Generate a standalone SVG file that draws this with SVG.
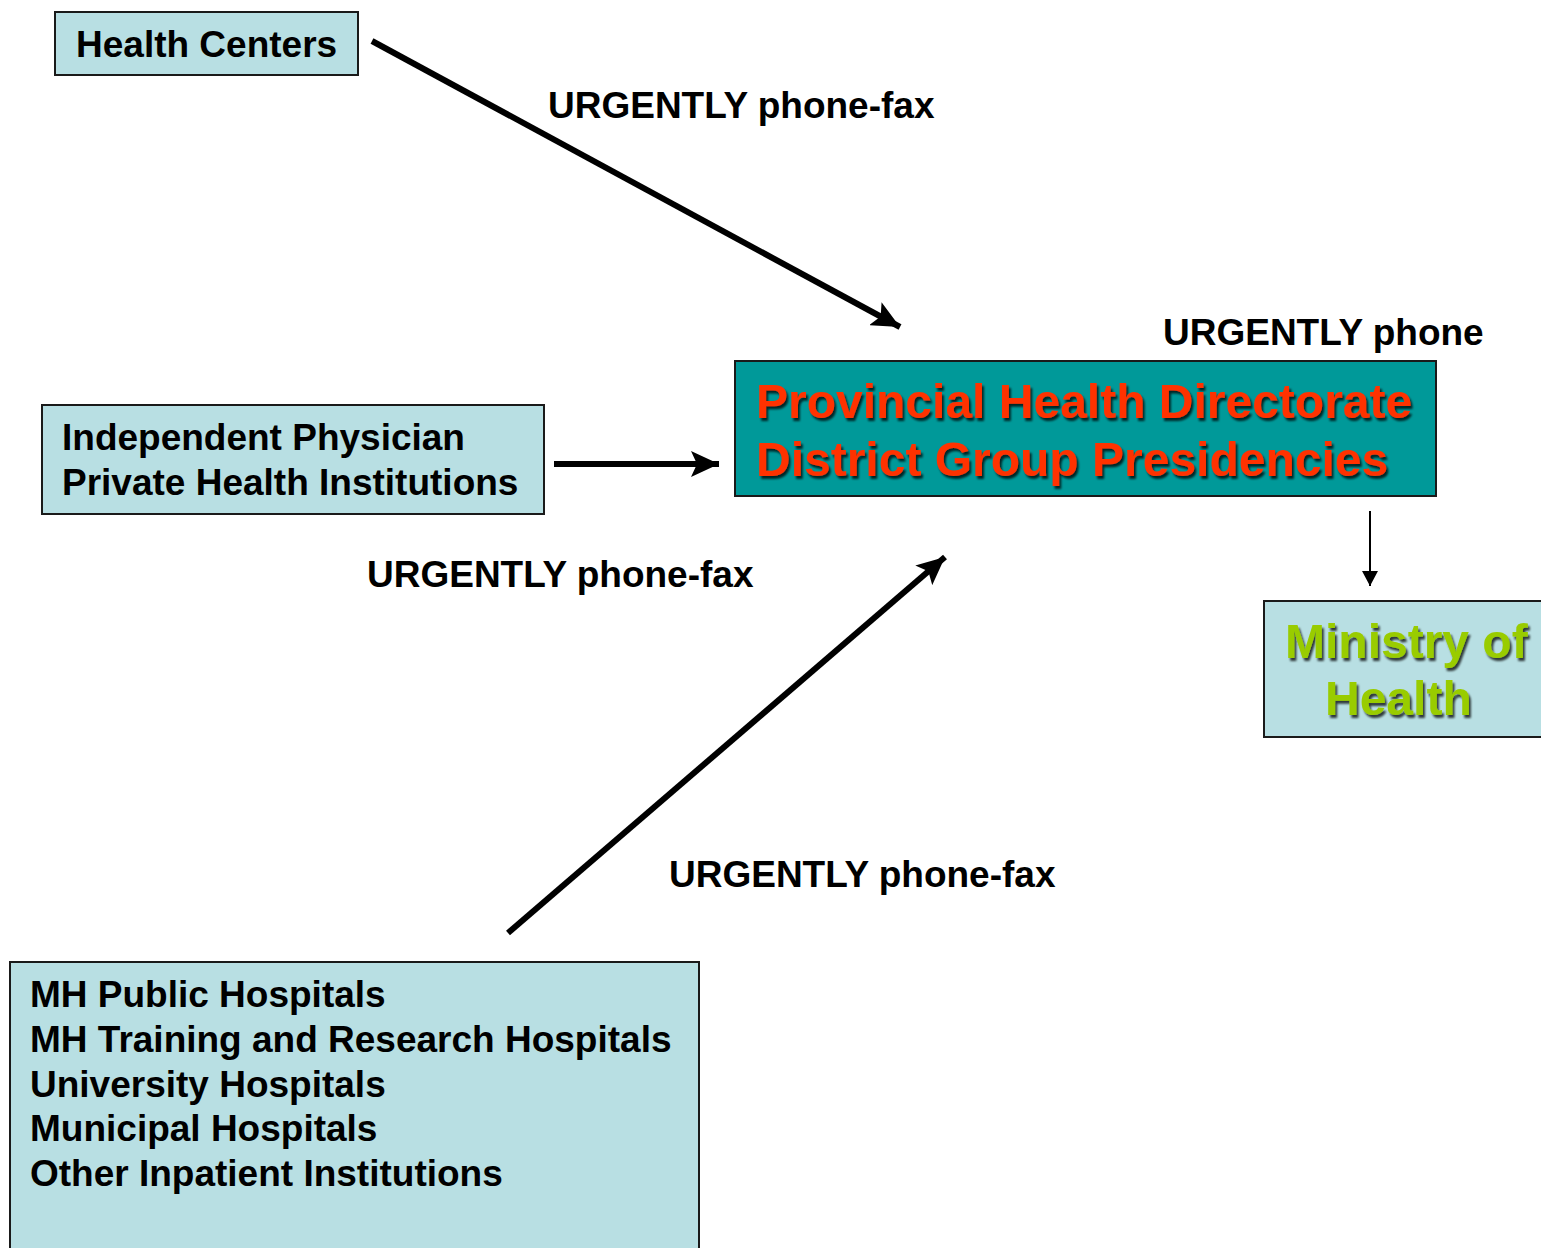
<svg xmlns="http://www.w3.org/2000/svg" width="1541" height="1248" viewBox="0 0 1541 1248">
<style>
.box{fill:#B8DFE3;stroke:#1a1a1a;stroke-width:2}
.lbl{font-family:"Liberation Sans",Arial,sans-serif;font-weight:bold;font-size:37px;fill:#000}
.big{font-family:"Liberation Sans",Arial,sans-serif;font-weight:bold;font-size:48px}
.thick{stroke:#000;stroke-width:6;fill:none}
</style>
<defs>
<marker id="ah" markerUnits="userSpaceOnUse" markerWidth="30" markerHeight="26" refX="28" refY="13" orient="auto">
<path d="M0,0 L28,13 L0,26 L6,13 Z" fill="#000"/>
</marker>
<marker id="ahs" markerUnits="userSpaceOnUse" markerWidth="16" markerHeight="16" refX="15" refY="8" orient="auto">
<path d="M0,0 L15,8 L0,16 Z" fill="#000"/>
</marker>
<filter id="sh" x="-5%" y="-20%" width="110%" height="140%">
<feDropShadow dx="2" dy="3" stdDeviation="1" flood-color="#000" flood-opacity="0.75"/>
</filter>
</defs>
<rect width="1541" height="1248" fill="#fff"/>
<g id="connectors">
<line class="thick" x1="372" y1="41" x2="900" y2="327" marker-end="url(#ah)"/>
<line class="thick" x1="554" y1="464" x2="719" y2="464" marker-end="url(#ah)"/>
<line class="thick" x1="508" y1="933" x2="945" y2="557" marker-end="url(#ah)"/>
<line x1="1370" y1="511" x2="1370" y2="586" stroke="#000" stroke-width="2" marker-end="url(#ahs)"/>
<text class="lbl" x="548" y="118">URGENTLY phone-fax</text>
<text class="lbl" x="1163" y="345">URGENTLY phone</text>
<text class="lbl" x="367" y="587">URGENTLY phone-fax</text>
<text class="lbl" x="669" y="887">URGENTLY phone-fax</text>
</g>
<g id="health-centers">
<rect class="box" x="55" y="12" width="303" height="63"/>
<text class="lbl" x="76" y="57">Health Centers</text>
</g>
<g id="independent">
<rect class="box" x="42" y="405" width="502" height="109"/>
<text class="lbl" x="62" y="450">Independent Physician</text>
<text class="lbl" x="62" y="495">Private Health Institutions</text>
</g>
<g id="provincial">
<rect x="735" y="361" width="701" height="135" fill="#009999" stroke="#1a1a1a" stroke-width="2"/>
<g filter="url(#sh)" fill="#FF3300">
<text class="big" x="756" y="418">Provincial Health Directorate</text>
<text class="big" x="756" y="476">District Group Presidencies</text>
</g>
</g>
<g id="ministry">
<rect class="box" x="1264" y="601" width="290" height="136"/>
<g filter="url(#sh)" fill="#99CC00">
<text class="big" x="1285" y="658">Ministry of</text>
<text class="big" x="1325" y="715">Health</text>
</g>
</g>
<g id="hospitals">
<rect class="box" x="10" y="962" width="689" height="300"/>
<text class="lbl" x="30" y="1007">MH Public Hospitals</text>
<text class="lbl" x="30" y="1052">MH Training and Research Hospitals</text>
<text class="lbl" x="30" y="1097">University Hospitals</text>
<text class="lbl" x="30" y="1141">Municipal Hospitals</text>
<text class="lbl" x="30" y="1186">Other Inpatient Institutions</text>
</g>
</svg>
